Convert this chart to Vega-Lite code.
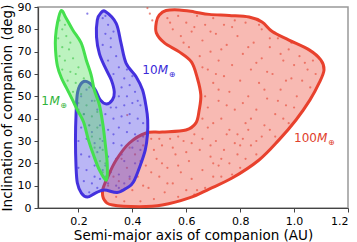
{
  "$schema": "https://vega.github.io/schema/vega-lite/v6.json",
  "width": 310,
  "height": 201,
  "autosize": {"type": "none"},
  "padding": {"left": 38, "top": 7, "right": 9, "bottom": 34},
  "config": {
    "font": "DejaVu Sans",
    "view": {"stroke": "#999999", "strokeWidth": 1.5},
    "axis": {
      "grid": false,
      "domainColor": "#444444",
      "domainWidth": 1.2,
      "tickColor": "#444444",
      "tickSize": 4,
      "labelColor": "#000000",
      "labelFontSize": 11,
      "labelPadding": 3,
      "titleColor": "#000000",
      "titleFontSize": 13.5,
      "titleFontWeight": "normal"
    },
    "axisX": {"titlePadding": 2, "labelPadding": 3},
    "axisY": {"titlePadding": 3}
  },
  "datasets": {
    "contours": [
      {"m": "100", "i": 0, "x": 0.525, "y": 88.4}, {"m": "100", "i": 1, "x": 0.574, "y": 88.7}, {"m": "100", "i": 2, "x": 0.630, "y": 87.8}, {"m": "100", "i": 3, "x": 0.685, "y": 86.7}, {"m": "100", "i": 4, "x": 0.759, "y": 86.2}, {"m": "100", "i": 5, "x": 0.833, "y": 85.5}, {"m": "100", "i": 6, "x": 0.881, "y": 83.3}, {"m": "100", "i": 7, "x": 0.919, "y": 79.0}, {"m": "100", "i": 8, "x": 0.981, "y": 75.2}, {"m": "100", "i": 9, "x": 1.056, "y": 70.8}, {"m": "100", "i": 10, "x": 1.099, "y": 66.3}, {"m": "100", "i": 11, "x": 1.111, "y": 61.8}, {"m": "100", "i": 12, "x": 1.093, "y": 56.0}, {"m": "100", "i": 13, "x": 1.059, "y": 48.4}, {"m": "100", "i": 14, "x": 1.007, "y": 39.4}, {"m": "100", "i": 15, "x": 0.944, "y": 30.5}, {"m": "100", "i": 16, "x": 0.870, "y": 21.5}, {"m": "100", "i": 17, "x": 0.770, "y": 13.4}, {"m": "100", "i": 18, "x": 0.685, "y": 8.5}, {"m": "100", "i": 19, "x": 0.611, "y": 4.5}, {"m": "100", "i": 20, "x": 0.511, "y": 1.3}, {"m": "100", "i": 21, "x": 0.426, "y": 0.6}, {"m": "100", "i": 22, "x": 0.327, "y": 1.3}, {"m": "100", "i": 23, "x": 0.296, "y": 3.6}, {"m": "100", "i": 24, "x": 0.290, "y": 8.1}, {"m": "100", "i": 25, "x": 0.309, "y": 14.0}, {"m": "100", "i": 26, "x": 0.340, "y": 21.5}, {"m": "100", "i": 27, "x": 0.389, "y": 29.1}, {"m": "100", "i": 28, "x": 0.451, "y": 33.6}, {"m": "100", "i": 29, "x": 0.511, "y": 34.0}, {"m": "100", "i": 30, "x": 0.599, "y": 34.9}, {"m": "100", "i": 31, "x": 0.636, "y": 38.1}, {"m": "100", "i": 32, "x": 0.648, "y": 43.9}, {"m": "100", "i": 33, "x": 0.654, "y": 50.6}, {"m": "100", "i": 34, "x": 0.641, "y": 58.2}, {"m": "100", "i": 35, "x": 0.619, "y": 65.4}, {"m": "100", "i": 36, "x": 0.574, "y": 69.9}, {"m": "100", "i": 37, "x": 0.519, "y": 73.9}, {"m": "100", "i": 38, "x": 0.489, "y": 78.4}, {"m": "100", "i": 39, "x": 0.489, "y": 83.3}, {"m": "100", "i": 40, "x": 0.500, "y": 86.4},
      {"m": "10", "i": 0, "x": 0.300, "y": 88.0}, {"m": "10", "i": 1, "x": 0.340, "y": 82.7}, {"m": "10", "i": 2, "x": 0.358, "y": 73.8}, {"m": "10", "i": 3, "x": 0.377, "y": 64.8}, {"m": "10", "i": 4, "x": 0.414, "y": 58.8}, {"m": "10", "i": 5, "x": 0.438, "y": 52.8}, {"m": "10", "i": 6, "x": 0.451, "y": 45.4}, {"m": "10", "i": 7, "x": 0.457, "y": 39.4}, {"m": "10", "i": 8, "x": 0.456, "y": 32.7}, {"m": "10", "i": 9, "x": 0.448, "y": 26.0}, {"m": "10", "i": 10, "x": 0.430, "y": 19.3}, {"m": "10", "i": 11, "x": 0.404, "y": 11.6}, {"m": "10", "i": 12, "x": 0.381, "y": 9.1}, {"m": "10", "i": 13, "x": 0.344, "y": 6.9}, {"m": "10", "i": 14, "x": 0.296, "y": 8.1}, {"m": "10", "i": 15, "x": 0.263, "y": 6.7}, {"m": "10", "i": 16, "x": 0.233, "y": 4.9}, {"m": "10", "i": 17, "x": 0.211, "y": 6.7}, {"m": "10", "i": 18, "x": 0.196, "y": 11.2}, {"m": "10", "i": 19, "x": 0.191, "y": 18.8}, {"m": "10", "i": 20, "x": 0.189, "y": 30.5}, {"m": "10", "i": 21, "x": 0.191, "y": 41.6}, {"m": "10", "i": 22, "x": 0.197, "y": 51.9}, {"m": "10", "i": 23, "x": 0.216, "y": 56.4}, {"m": "10", "i": 24, "x": 0.241, "y": 56.0}, {"m": "10", "i": 25, "x": 0.263, "y": 52.8}, {"m": "10", "i": 26, "x": 0.281, "y": 48.4}, {"m": "10", "i": 27, "x": 0.304, "y": 46.6}, {"m": "10", "i": 28, "x": 0.326, "y": 48.4}, {"m": "10", "i": 29, "x": 0.333, "y": 51.9}, {"m": "10", "i": 30, "x": 0.322, "y": 57.3}, {"m": "10", "i": 31, "x": 0.300, "y": 62.7}, {"m": "10", "i": 32, "x": 0.278, "y": 69.0}, {"m": "10", "i": 33, "x": 0.267, "y": 76.6}, {"m": "10", "i": 34, "x": 0.270, "y": 84.2}, {"m": "10", "i": 35, "x": 0.283, "y": 87.3},
      {"m": "1", "i": 0, "x": 0.136, "y": 88.4}, {"m": "1", "i": 1, "x": 0.154, "y": 85.1}, {"m": "1", "i": 2, "x": 0.179, "y": 79.7}, {"m": "1", "i": 3, "x": 0.210, "y": 73.9}, {"m": "1", "i": 4, "x": 0.229, "y": 66.3}, {"m": "1", "i": 5, "x": 0.247, "y": 59.6}, {"m": "1", "i": 6, "x": 0.259, "y": 52.8}, {"m": "1", "i": 7, "x": 0.278, "y": 46.1}, {"m": "1", "i": 8, "x": 0.291, "y": 37.2}, {"m": "1", "i": 9, "x": 0.300, "y": 28.2}, {"m": "1", "i": 10, "x": 0.307, "y": 19.3}, {"m": "1", "i": 11, "x": 0.304, "y": 12.5}, {"m": "1", "i": 12, "x": 0.278, "y": 17.0}, {"m": "1", "i": 13, "x": 0.256, "y": 23.7}, {"m": "1", "i": 14, "x": 0.237, "y": 30.5}, {"m": "1", "i": 15, "x": 0.219, "y": 38.5}, {"m": "1", "i": 16, "x": 0.196, "y": 43.9}, {"m": "1", "i": 17, "x": 0.178, "y": 48.4}, {"m": "1", "i": 18, "x": 0.156, "y": 53.7}, {"m": "1", "i": 19, "x": 0.137, "y": 58.2}, {"m": "1", "i": 20, "x": 0.122, "y": 63.6}, {"m": "1", "i": 21, "x": 0.115, "y": 70.8}, {"m": "1", "i": 22, "x": 0.115, "y": 76.6}, {"m": "1", "i": 23, "x": 0.122, "y": 82.8}
    ],
    "points": [
      {"m":"100","x":0.53,"y":85},{"m":"100","x":0.55,"y":80},{"m":"100","x":0.57,"y":86},{"m":"100","x":0.58,"y":77},{"m":"100","x":0.6,"y":83},{"m":"100","x":0.61,"y":72},{"m":"100","x":0.62,"y":79},{"m":"100","x":0.64,"y":86},{"m":"100","x":0.65,"y":68},{"m":"100","x":0.66,"y":75},{"m":"100","x":0.67,"y":82},{"m":"100","x":0.68,"y":62},{"m":"100","x":0.69,"y":70},{"m":"100","x":0.7,"y":56},{"m":"100","x":0.7,"y":85},{"m":"100","x":0.71,"y":78},{"m":"100","x":0.72,"y":48},{"m":"100","x":0.72,"y":66},{"m":"100","x":0.73,"y":40},{"m":"100","x":0.74,"y":59},{"m":"100","x":0.74,"y":82},{"m":"100","x":0.75,"y":73},{"m":"100","x":0.76,"y":35},{"m":"100","x":0.76,"y":52},{"m":"100","x":0.77,"y":64},{"m":"100","x":0.78,"y":84},{"m":"100","x":0.78,"y":44},{"m":"100","x":0.79,"y":77},{"m":"100","x":0.8,"y":28},{"m":"100","x":0.8,"y":57},{"m":"100","x":0.81,"y":69},{"m":"100","x":0.82,"y":38},{"m":"100","x":0.82,"y":83},{"m":"100","x":0.83,"y":50},{"m":"100","x":0.84,"y":62},{"m":"100","x":0.85,"y":74},{"m":"100","x":0.86,"y":30},{"m":"100","x":0.86,"y":44},{"m":"100","x":0.87,"y":56},{"m":"100","x":0.88,"y":80},{"m":"100","x":0.88,"y":67},{"m":"100","x":0.89,"y":37},{"m":"100","x":0.9,"y":49},{"m":"100","x":0.91,"y":72},{"m":"100","x":0.92,"y":60},{"m":"100","x":0.93,"y":42},{"m":"100","x":0.94,"y":76},{"m":"100","x":0.95,"y":53},{"m":"100","x":0.96,"y":66},{"m":"100","x":0.97,"y":46},{"m":"100","x":0.98,"y":71},{"m":"100","x":0.99,"y":58},{"m":"100","x":1.0,"y":64},{"m":"100","x":1.01,"y":50},{"m":"100","x":1.02,"y":68},{"m":"100","x":1.03,"y":57},{"m":"100","x":1.05,"y":62},{"m":"100","x":1.06,"y":54},{"m":"100","x":1.08,"y":60},{"m":"100","x":1.07,"y":66},
      {"m":"100","x":0.54,"y":83},{"m":"100","x":0.59,"y":74},{"m":"100","x":0.63,"y":81},{"m":"100","x":0.66,"y":63},{"m":"100","x":0.69,"y":79},{"m":"100","x":0.71,"y":60},{"m":"100","x":0.73,"y":71},{"m":"100","x":0.75,"y":46},{"m":"100","x":0.77,"y":81},{"m":"100","x":0.79,"y":33},{"m":"100","x":0.81,"y":47},{"m":"100","x":0.83,"y":72},{"m":"100","x":0.84,"y":40},{"m":"100","x":0.86,"y":65},{"m":"100","x":0.87,"y":82},{"m":"100","x":0.89,"y":53},{"m":"100","x":0.9,"y":61},{"m":"100","x":0.91,"y":76},{"m":"100","x":0.94,"y":48},{"m":"100","x":0.95,"y":69},{"m":"100","x":0.97,"y":57},{"m":"100","x":0.99,"y":74},{"m":"100","x":1.0,"y":45},{"m":"100","x":1.04,"y":65},{"m":"100","x":0.72,"y":53},{"m":"100","x":0.68,"y":45},{"m":"100","x":0.7,"y":38},{"m":"100","x":0.67,"y":50},{"m":"100","x":0.66,"y":40},{"m":"100","x":0.69,"y":28},
      {"m":"100","x":0.34,"y":5},{"m":"100","x":0.35,"y":12},{"m":"100","x":0.37,"y":3},{"m":"100","x":0.38,"y":18},{"m":"100","x":0.4,"y":8},{"m":"100","x":0.41,"y":24},{"m":"100","x":0.42,"y":14},{"m":"100","x":0.43,"y":3},{"m":"100","x":0.44,"y":28},{"m":"100","x":0.45,"y":19},{"m":"100","x":0.46,"y":9},{"m":"100","x":0.47,"y":31},{"m":"100","x":0.48,"y":4},{"m":"100","x":0.49,"y":22},{"m":"100","x":0.5,"y":14},{"m":"100","x":0.51,"y":28},{"m":"100","x":0.52,"y":7},{"m":"100","x":0.53,"y":18},{"m":"100","x":0.54,"y":31},{"m":"100","x":0.55,"y":11},{"m":"100","x":0.56,"y":24},{"m":"100","x":0.57,"y":5},{"m":"100","x":0.58,"y":16},{"m":"100","x":0.59,"y":30},{"m":"100","x":0.6,"y":8},{"m":"100","x":0.61,"y":21},{"m":"100","x":0.62,"y":13},{"m":"100","x":0.63,"y":33},{"m":"100","x":0.64,"y":8},{"m":"100","x":0.65,"y":26},{"m":"100","x":0.66,"y":17},{"m":"100","x":0.67,"y":9},{"m":"100","x":0.68,"y":36},{"m":"100","x":0.69,"y":23},{"m":"100","x":0.7,"y":14},{"m":"100","x":0.71,"y":30},{"m":"100","x":0.72,"y":19},{"m":"100","x":0.73,"y":14},{"m":"100","x":0.74,"y":26},{"m":"100","x":0.75,"y":33},{"m":"100","x":0.76,"y":20},{"m":"100","x":0.77,"y":15},{"m":"100","x":0.79,"y":24},{"m":"100","x":0.8,"y":18},{"m":"100","x":0.82,"y":22},{"m":"100","x":0.84,"y":28},{"m":"100","x":0.86,"y":24},{"m":"100","x":0.88,"y":32},{"m":"100","x":0.91,"y":35},{"m":"100","x":0.93,"y":32},{"m":"100","x":0.96,"y":40},{"m":"100","x":0.98,"y":38},{"m":"100","x":0.31,"y":10},{"m":"100","x":0.33,"y":14},{"m":"100","x":0.36,"y":22},{"m":"100","x":0.39,"y":27},{"m":"100","x":0.5,"y":31},{"m":"100","x":0.57,"y":32},
      {"m":"100","x":0.36,"y":8},{"m":"100","x":0.39,"y":13},{"m":"100","x":0.43,"y":21},{"m":"100","x":0.44,"y":10},{"m":"100","x":0.47,"y":16},{"m":"100","x":0.48,"y":26},{"m":"100","x":0.51,"y":20},{"m":"100","x":0.53,"y":11},{"m":"100","x":0.55,"y":27},{"m":"100","x":0.57,"y":19},{"m":"100","x":0.6,"y":25},{"m":"100","x":0.62,"y":29},{"m":"100","x":0.63,"y":6},{"m":"100","x":0.66,"y":31},{"m":"100","x":0.7,"y":20},{"m":"100","x":0.73,"y":22},{"m":"100","x":0.78,"y":29},{"m":"100","x":0.81,"y":31},{"m":"100","x":0.83,"y":35},
      {"m":"100","x":0.456,"y":89.5},{"m":"100","x":0.474,"y":84},{"m":"100","x":0.465,"y":87},{"m":"100","x":0.381,"y":41.6},
      {"m":"10","x":0.29,"y":85},{"m":"10","x":0.31,"y":82},{"m":"10","x":0.3,"y":78},{"m":"10","x":0.33,"y":79},{"m":"10","x":0.29,"y":73},{"m":"10","x":0.32,"y":72},{"m":"10","x":0.34,"y":68},{"m":"10","x":0.31,"y":66},{"m":"10","x":0.35,"y":63},{"m":"10","x":0.33,"y":60},{"m":"10","x":0.37,"y":58},{"m":"10","x":0.36,"y":54},{"m":"10","x":0.39,"y":55},{"m":"10","x":0.35,"y":50},{"m":"10","x":0.38,"y":50},{"m":"10","x":0.41,"y":52},{"m":"10","x":0.34,"y":45},{"m":"10","x":0.37,"y":46},{"m":"10","x":0.4,"y":47},{"m":"10","x":0.43,"y":46},{"m":"10","x":0.21,"y":50},{"m":"10","x":0.23,"y":53},{"m":"10","x":0.25,"y":48},{"m":"10","x":0.2,"y":44},{"m":"10","x":0.22,"y":42},{"m":"10","x":0.27,"y":44},{"m":"10","x":0.3,"y":42},{"m":"10","x":0.33,"y":40},{"m":"10","x":0.36,"y":41},{"m":"10","x":0.39,"y":42},{"m":"10","x":0.42,"y":40},{"m":"10","x":0.44,"y":38},{"m":"10","x":0.21,"y":36},{"m":"10","x":0.24,"y":37},{"m":"10","x":0.28,"y":37},{"m":"10","x":0.31,"y":35},{"m":"10","x":0.35,"y":36},{"m":"10","x":0.38,"y":34},{"m":"10","x":0.41,"y":33},{"m":"10","x":0.44,"y":32},{"m":"10","x":0.2,"y":30},{"m":"10","x":0.23,"y":31},{"m":"10","x":0.26,"y":29},{"m":"10","x":0.29,"y":30},{"m":"10","x":0.33,"y":29},{"m":"10","x":0.36,"y":28},{"m":"10","x":0.4,"y":27},{"m":"10","x":0.43,"y":26},{"m":"10","x":0.21,"y":24},{"m":"10","x":0.24,"y":23},{"m":"10","x":0.27,"y":25},{"m":"10","x":0.31,"y":23},{"m":"10","x":0.34,"y":22},{"m":"10","x":0.37,"y":21},{"m":"10","x":0.41,"y":20},{"m":"10","x":0.2,"y":18},{"m":"10","x":0.23,"y":17},{"m":"10","x":0.26,"y":19},{"m":"10","x":0.29,"y":17},{"m":"10","x":0.32,"y":16},{"m":"10","x":0.35,"y":15},{"m":"10","x":0.39,"y":14},{"m":"10","x":0.22,"y":12},{"m":"10","x":0.25,"y":11},{"m":"10","x":0.28,"y":13},{"m":"10","x":0.31,"y":11},{"m":"10","x":0.34,"y":10},{"m":"10","x":0.37,"y":11},{"m":"10","x":0.24,"y":7},{"m":"10","x":0.27,"y":9},{"m":"10","x":0.35,"y":9},{"m":"10","x":0.3,"y":86},{"m":"10","x":0.32,"y":76},{"m":"10","x":0.38,"y":62},{"m":"10","x":0.42,"y":48},{"m":"10","x":0.25,"y":34},{"m":"10","x":0.28,"y":27},{"m":"10","x":0.3,"y":19},{"m":"10","x":0.33,"y":33},{"m":"10","x":0.36,"y":24},{"m":"10","x":0.39,"y":38},{"m":"10","x":0.42,"y":30},{"m":"10","x":0.26,"y":14},{"m":"10","x":0.32,"y":45},{"m":"10","x":0.4,"y":59},{"m":"10","x":0.233,"y":87},
      {"m":"1","x":0.13,"y":84},{"m":"1","x":0.14,"y":80},{"m":"1","x":0.125,"y":76},{"m":"1","x":0.155,"y":77},{"m":"1","x":0.14,"y":72},{"m":"1","x":0.165,"y":71},{"m":"1","x":0.13,"y":68},{"m":"1","x":0.15,"y":66},{"m":"1","x":0.18,"y":67},{"m":"1","x":0.14,"y":62},{"m":"1","x":0.17,"y":61},{"m":"1","x":0.2,"y":63},{"m":"1","x":0.16,"y":57},{"m":"1","x":0.19,"y":56},{"m":"1","x":0.22,"y":58},{"m":"1","x":0.18,"y":52},{"m":"1","x":0.21,"y":51},{"m":"1","x":0.24,"y":54},{"m":"1","x":0.2,"y":47},{"m":"1","x":0.23,"y":46},{"m":"1","x":0.26,"y":48},{"m":"1","x":0.22,"y":42},{"m":"1","x":0.25,"y":41},{"m":"1","x":0.27,"y":43},{"m":"1","x":0.24,"y":37},{"m":"1","x":0.27,"y":36},{"m":"1","x":0.25,"y":32},{"m":"1","x":0.28,"y":31},{"m":"1","x":0.26,"y":27},{"m":"1","x":0.29,"y":26},{"m":"1","x":0.28,"y":21},{"m":"1","x":0.3,"y":20},{"m":"1","x":0.29,"y":16},{"m":"1","x":0.3,"y":14},{"m":"1","x":0.15,"y":82},{"m":"1","x":0.17,"y":74},{"m":"1","x":0.19,"y":60}
    ],
    "labels": [
      {"m": "1", "part": "num", "t": "1", "x": 0.062, "y": 46.1},
      {"m": "1", "part": "M", "t": "M", "x": 0.0926, "y": 46.1},
      {"m": "1", "part": "sym", "t": "⊕", "x": 0.133, "y": 44.6},
      {"m": "10", "part": "num", "t": "10", "x": 0.437, "y": 60.0},
      {"m": "10", "part": "M", "t": "M", "x": 0.494, "y": 60.0},
      {"m": "10", "part": "sym", "t": "⊕", "x": 0.535, "y": 58.5},
      {"m": "100", "part": "num", "t": "100", "x": 1.0, "y": 29.7},
      {"m": "100", "part": "M", "t": "M", "x": 1.085, "y": 29.7},
      {"m": "100", "part": "sym", "t": "⊕", "x": 1.126, "y": 28.2}
    ]
  },
  "encoding": {
    "x": {
      "field": "x", "type": "quantitative",
      "scale": {"domain": [0.05, 1.2], "nice": false, "zero": false},
      "axis": {"title": "Semi-major axis of companion (AU)", "values": [0.2, 0.4, 0.6, 0.8, 1.0, 1.2], "format": ".1f"}
    },
    "y": {
      "field": "y", "type": "quantitative",
      "scale": {"domain": [0, 90], "nice": false},
      "axis": {"title": "Inclination of companion (deg)", "values": [0, 10, 20, 30, 40, 50, 60, 70, 80, 90]}
    }
  },
  "layer": [
    {
      "data": {"name": "points"},
      "mark": {"type": "circle", "size": 5, "opacity": 0.6},
      "encoding": {
        "color": {"field": "m", "type": "nominal", "scale": {"domain": ["1", "10", "100"], "range": ["#2fb33a", "#3a2ad8", "#e0402c"]}, "legend": null}
      }
    },
    {
      "data": {"name": "contours"},
      "mark": {"type": "line", "interpolate": "cardinal-closed", "strokeWidth": 3, "fillOpacity": 0.38, "strokeJoin": "round"},
      "encoding": {
        "order": {"field": "i", "type": "quantitative"},
        "stroke": {"field": "m", "type": "nominal", "scale": {"domain": ["100", "10", "1"], "range": ["#e8412d", "#4431de", "#45e04e"]}, "legend": null},
        "fill": {"field": "m", "type": "nominal", "scale": {"domain": ["100", "10", "1"], "range": ["#ec4a36", "#4a3ee6", "#4ee057"]}, "legend": null}
      }
    },
    {
      "data": {"name": "labels"},
      "transform": [{"filter": "datum.part === 'num'"}],
      "mark": {"type": "text", "align": "left", "baseline": "alphabetic", "fontSize": 12},
      "encoding": {
        "text": {"field": "t"},
        "color": {"field": "m", "type": "nominal", "scale": {"domain": ["1", "10", "100"], "range": ["#3cdc48", "#4431de", "#e8503c"]}, "legend": null}
      }
    },
    {
      "data": {"name": "labels"},
      "transform": [{"filter": "datum.part === 'M'"}],
      "mark": {"type": "text", "align": "left", "baseline": "alphabetic", "fontSize": 12, "fontStyle": "italic"},
      "encoding": {
        "text": {"field": "t"},
        "color": {"field": "m", "type": "nominal", "scale": {"domain": ["1", "10", "100"], "range": ["#3cdc48", "#4431de", "#e8503c"]}, "legend": null}
      }
    },
    {
      "data": {"name": "labels"},
      "transform": [{"filter": "datum.part === 'sym'"}],
      "mark": {"type": "text", "align": "left", "baseline": "alphabetic", "fontSize": 8},
      "encoding": {
        "text": {"field": "t"},
        "color": {"field": "m", "type": "nominal", "scale": {"domain": ["1", "10", "100"], "range": ["#3cdc48", "#4431de", "#e8503c"]}, "legend": null}
      }
    }
  ]
}
